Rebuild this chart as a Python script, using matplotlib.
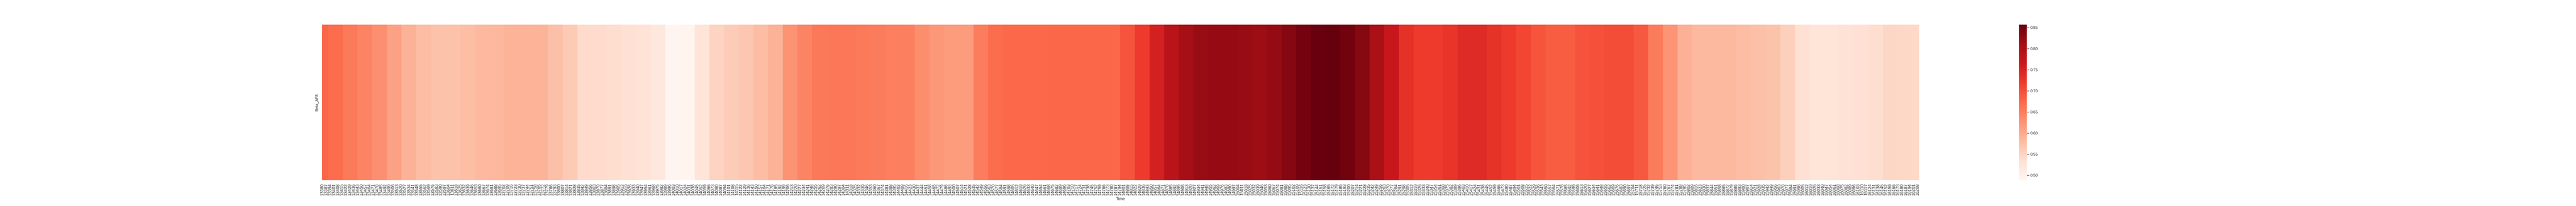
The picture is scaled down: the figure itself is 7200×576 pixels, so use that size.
import numpy as np
import pandas as pd
import matplotlib
matplotlib.use("Agg")
import matplotlib.pyplot as plt
import seaborn as sns

# time axis (one column per time step)
time = np.arange(13380, 16211)

# Beta_AF8 values, read block by block (value holds for a run of columns)
block_values = [
    0.676, 0.669, 0.654, 0.643, 0.630, 0.610, 0.591, 0.578, 0.573, 0.573,
    0.577, 0.582, 0.586, 0.590, 0.590, 0.588, 0.575, 0.562, 0.540, 0.540,
    0.538, 0.534, 0.529, 0.516, 0.488, 0.492, 0.525, 0.551, 0.560, 0.566,
    0.578, 0.591, 0.625, 0.643, 0.656, 0.658, 0.658, 0.654, 0.652, 0.649,
    0.647, 0.632, 0.621, 0.615, 0.615, 0.650, 0.669, 0.673, 0.673, 0.673,
    0.674, 0.674, 0.674, 0.674, 0.674, 0.695, 0.720, 0.754, 0.787, 0.809,
    0.820, 0.822, 0.822, 0.820, 0.816, 0.822, 0.835, 0.846, 0.855, 0.857,
    0.849, 0.833, 0.805, 0.768, 0.731, 0.720, 0.720, 0.728, 0.739, 0.739,
    0.730, 0.719, 0.708, 0.693, 0.685, 0.685, 0.695, 0.698, 0.702, 0.702,
    0.689, 0.652, 0.623, 0.593, 0.582, 0.582, 0.582, 0.578, 0.575, 0.571,
    0.555, 0.534, 0.525, 0.525, 0.531, 0.532, 0.538, 0.547, 0.545, 0.544,
]
block_lengths = [11] + [26] * 108 + [12]

values = np.repeat(block_values, block_lengths)
df = pd.DataFrame({"Beta_AF8": values}, index=pd.Index(time, name="Time"))

sns.set_theme()
plt.rcParams["font.family"] = ["Liberation Sans", "DejaVu Sans"]

fig, ax = plt.subplots(figsize=(100, 8), dpi=72)
fig.subplots_adjust(bottom=0.125)
sns.heatmap(df.T, cmap="Reds", xticklabels=7, yticklabels=True, ax=ax)

ax.tick_params(axis="x", labelsize=12)
plt.setp(ax.get_xticklabels(), rotation=90)
plt.setp(ax.get_yticklabels(), rotation=90, va="center")

fig.savefig("out.png", dpi=72)
